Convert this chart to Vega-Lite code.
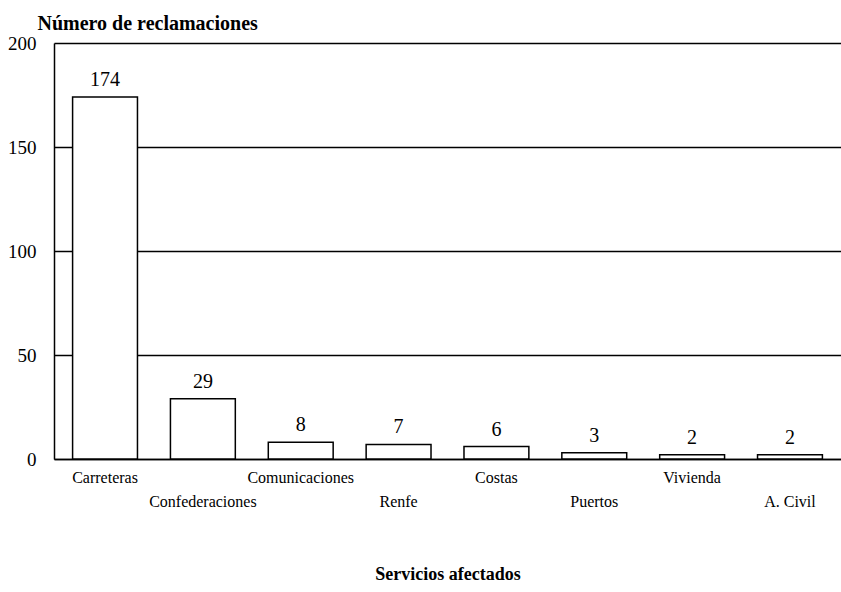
{
  "$schema": "https://vega.github.io/schema/vega-lite/v6.json",
  "width": 787,
  "height": 416,
  "autosize": {"type": "none"},
  "padding": {"left": 54, "top": 43, "right": 0, "bottom": 133},
  "background": "white",
  "config": {"view": {"stroke": null}, "font": "Liberation Serif"},
  "data": {"values": [
    {"servicio": "Carreteras", "n": 174},
    {"servicio": "Confederaciones", "n": 29},
    {"servicio": "Comunicaciones", "n": 8},
    {"servicio": "Renfe", "n": 7},
    {"servicio": "Costas", "n": 6},
    {"servicio": "Puertos", "n": 3},
    {"servicio": "Vivienda", "n": 2},
    {"servicio": "A. Civil", "n": 2}
  ]},
  "encoding": {
    "x": {"field": "servicio", "type": "nominal", "sort": null,
      "scale": {"paddingInner": 0.337, "paddingOuter": 0.19},
      "axis": {"title": "Servicios afectados", "labelAngle": 0, "ticks": false,
        "domainColor": "black", "domainWidth": 1.5,
        "labelFont": "Liberation Serif", "labelFontSize": 16, "labelColor": "black",
        "labelPadding": {"condition": {"test": "indexof(['Confederaciones','Renfe','Puertos','A. Civil'], datum.value) >= 0", "value": 34}, "value": 10},
        "titleFont": "Liberation Serif", "titleFontSize": 18, "titleFontWeight": "bold", "titleColor": "black",
        "titlePadding": 56}},
    "y": {"field": "n", "type": "quantitative",
      "scale": {"domain": [0, 200]},
      "axis": {"values": [0, 50, 100, 150, 200], "ticks": false,
        "grid": true, "gridColor": "black", "gridWidth": 1.5, "gridOpacity": 1,
        "domainColor": "black", "domainWidth": 1.5,
        "labelFont": "Liberation Serif", "labelFontSize": 19, "labelColor": "black",
        "labelPadding": 18,
        "title": "Número de reclamaciones", "titleAngle": 0, "titleAlign": "left",
        "titleBaseline": "bottom", "titleX": -17, "titleY": -10,
        "titleFont": "Liberation Serif", "titleFontSize": 20, "titleFontWeight": "bold", "titleColor": "black"}}
  },
  "layer": [
    {"mark": {"type": "bar", "fill": "white", "stroke": "black", "strokeWidth": 1.5}},
    {"mark": {"type": "text", "dy": -7, "baseline": "bottom", "fontSize": 20, "font": "Liberation Serif", "color": "black"},
      "encoding": {"text": {"field": "n", "type": "quantitative"}}}
  ]
}
